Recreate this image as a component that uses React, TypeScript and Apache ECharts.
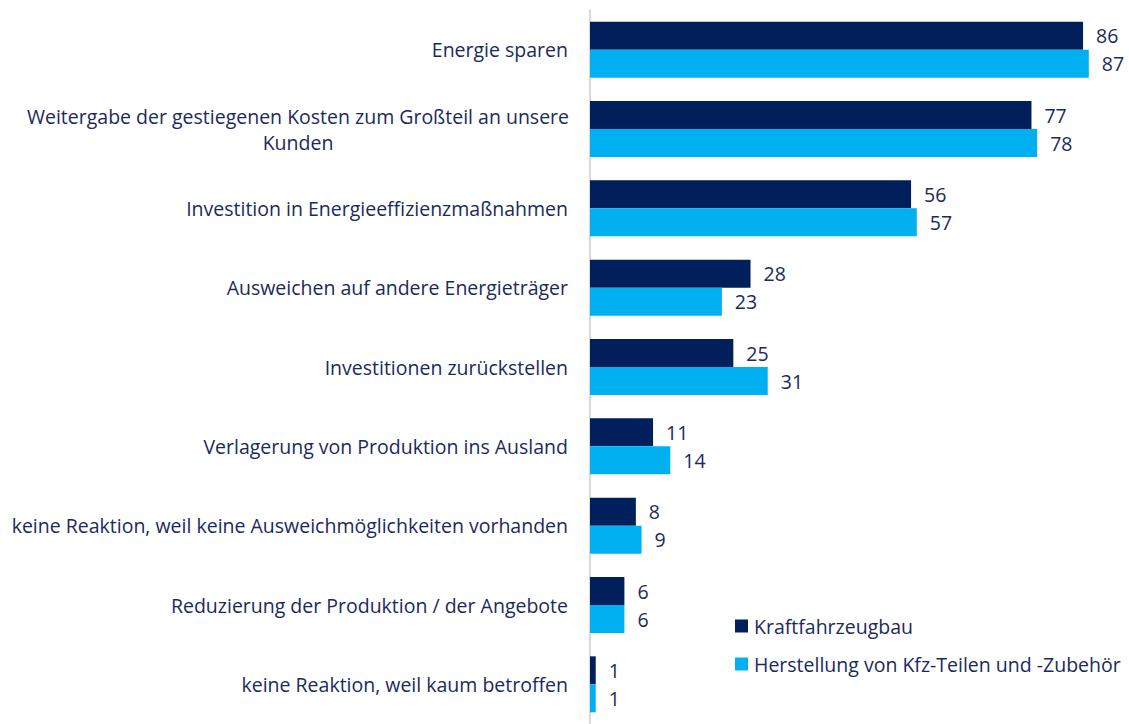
import React, { useEffect, useRef } from "react";
import * as echarts from "echarts";

const categories = [
  "Energie sparen",
  "Weitergabe der gestiegenen Kosten zum Großteil an unsere\nKunden",
  "Investition in Energieeffizienzmaßnahmen",
  "Ausweichen auf andere Energieträger",
  "Investitionen zurückstellen",
  "Verlagerung von Produktion ins Ausland",
  "keine Reaktion, weil keine Ausweichmöglichkeiten vorhanden",
  "Reduzierung der Produktion / der Angebote",
  "keine Reaktion, weil kaum betroffen",
];
const seriesNames = ["Kraftfahrzeugbau", "Herstellung von Kfz-Teilen und -Zubehör"];
const kfzBau = [86, 77, 56, 28, 25, 11, 8, 6, 1];
const kfzTeile = [87, 78, 57, 23, 31, 14, 9, 6, 1];

const NAVY = "#001f5b";
const CYAN = "#00b0f0";
const TEXT = "#1b2a5c";
const FONT = "Open Sans";
const FS = 19.5;

export default function App() {
  const ref = useRef<HTMLDivElement>(null);
  useEffect(() => {
    const chart = echarts.init(ref.current!, null, { renderer: "svg" });
    const label = {
      show: true,
      position: "right",
      distance: 13,
      color: TEXT,
      fontSize: FS,
      fontFamily: FONT,
    };
    chart.setOption({
      animation: false,
      textStyle: { fontFamily: FONT },
      grid: { left: 590, top: 10, bottom: -5, right: 23, containLabel: false },
      legend: {
        orient: "vertical",
        left: 735,
        top: 616,
        padding: 0,
        itemWidth: 13,
        itemHeight: 13,
        itemGap: 18,
        icon: "rect",
        textStyle: { color: TEXT, fontSize: FS, fontFamily: FONT, padding: [0, 0, 0, 1] },
        data: seriesNames,
      },
      xAxis: {
        type: "value",
        min: 0,
        max: 90,
        show: false,
      },
      yAxis: {
        type: "category",
        inverse: true,
        data: categories,
        axisLine: { show: true, lineStyle: { color: "#d9d9d9", width: 2 } },
        axisTick: { show: false },
        axisLabel: {
          margin: 22,
          color: TEXT,
          fontSize: FS,
          fontFamily: FONT,
          align: "right",
          lineHeight: 26,
          formatter: (v: string) =>
            v.indexOf("\n") >= 0
              ? v
                  .split("\n")
                  .map((l) => `{c|${l}}`)
                  .join("\n")
              : v,
          rich: {
            c: {
              width: 540,
              align: "center",
              color: TEXT,
              fontSize: FS,
              fontFamily: FONT,
              lineHeight: 26,
            },
          },
        },
      },
      series: [
        {
          name: seriesNames[0],
          type: "bar",
          data: kfzBau,
          barWidth: 28,
          barGap: "0%",
          itemStyle: { color: NAVY },
          label,
        },
        {
          name: seriesNames[1],
          type: "bar",
          data: kfzTeile,
          barWidth: 28,
          barGap: "0%",
          itemStyle: { color: CYAN },
          label,
        },
      ],
    });
    return () => chart.dispose();
  }, []);
  return <div ref={ref} style={{ width: 1129, height: 724, position: "absolute", left: 0, top: 0 }} />;
}
